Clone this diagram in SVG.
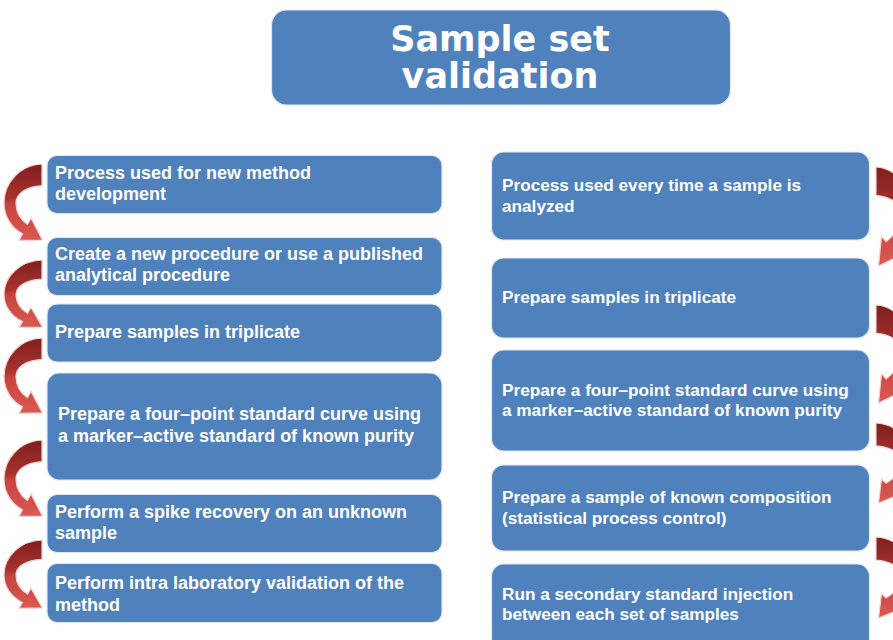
<svg xmlns="http://www.w3.org/2000/svg" xmlns:xlink="http://www.w3.org/1999/xlink" width="893" height="640" viewBox="0 0 893 640">
  <style>
    .box { fill: #4f81bd; stroke: #dfe8f3; stroke-width: 1.2; }
    .t { fill: #ffffff; font-family: "Liberation Sans", Arial, sans-serif; font-weight: bold; font-size: 18px; }
    .tr { fill: #ffffff; font-family: "Liberation Sans", Arial, sans-serif; font-weight: bold; font-size: 17.2px; }
    .title { fill: #ffffff; font-family: "DejaVu Sans", "Open Sans", sans-serif; font-weight: bold; font-size: 35px; text-anchor: middle; }
    .arr { fill: url(#arrGrad); stroke: #f1d3d2; stroke-width: 1.2; }
  </style>
  <defs>
    <linearGradient id="arrGrad" x1="0" y1="0" x2="0" y2="1">
      <stop offset="0" stop-color="#7f201e"/>
      <stop offset="0.44" stop-color="#a8322e"/>
      <stop offset="0.52" stop-color="#c8423d"/>
      <stop offset="1" stop-color="#da5a52"/>
    </linearGradient>
    <!-- curved arrow: tail at top right, bows out to the left, head points right -->
    <path id="carrow" class="arr" vector-effect="non-scaling-stroke"
          d="M42,0 C20,1 4,17 4,36 C4,49 12,59 22.5,64.3 L19,70.4 L42.4,70 L31,49.6 L27.5,55.7 C20,51 16,44 16,36 C16,27 26,21 42,20 Z"/>
    <!-- same arrow with a steeper head, used mirrored on the right -->
    <path id="carrow2" class="arr" vector-effect="non-scaling-stroke"
          d="M42,0 C20,1 4,17 4,34 C4,46 14,54 24.2,59.2 L19.5,63 L39.5,70 L36.5,49 L31.9,52.8 C22,47 16,42 16,34 C16,27 26,21 42,20 Z"/>
  </defs>

  <rect width="893" height="640" fill="#ffffff"/>

  <g id="connectors">
    <!-- left column -->
    <use xlink:href="#carrow" transform="translate(0,164) scale(1,1.086)"/>
    <use xlink:href="#carrow" transform="translate(0,260) scale(1,0.957)"/>
    <use xlink:href="#carrow" transform="translate(0,338) scale(1,1.071)"/>
    <use xlink:href="#carrow" transform="translate(0,440) scale(1,1.086)"/>
    <use xlink:href="#carrow" transform="translate(0,540) scale(1,0.971)"/>
    <!-- right column (mirrored) -->
    <use xlink:href="#carrow2" transform="translate(918,167) scale(-1,1.414)"/>
    <use xlink:href="#carrow2" transform="translate(918,305) scale(-1,1.4)"/>
    <use xlink:href="#carrow2" transform="translate(918,423) scale(-1,1.143)"/>
    <use xlink:href="#carrow2" transform="translate(918,537) scale(-1,1.157)"/>
  </g>

  <g id="title">
    <rect class="box" x="271.5" y="10" width="459" height="95" rx="15"/>
    <text class="title" x="500" y="51">Sample set</text>
    <text class="title" x="500" y="88">validation</text>
  </g>

  <!-- left column: new method development -->
  <g id="l1">
    <rect class="box" x="47" y="155.5" width="395" height="58" rx="10"/>
    <text class="t" x="55" y="179">Process used for new method</text>
    <text class="t" x="55" y="200">development</text>
  </g>
  <g id="l2">
    <rect class="box" x="47" y="237.5" width="395" height="58" rx="10"/>
    <text class="t" x="55" y="260">Create a new procedure or use a published</text>
    <text class="t" x="55" y="281">analytical procedure</text>
  </g>
  <g id="l3">
    <rect class="box" x="47" y="304" width="395" height="58" rx="10"/>
    <text class="t" x="55" y="338">Prepare samples in triplicate</text>
  </g>
  <g id="l4">
    <rect class="box" x="47" y="373" width="395" height="107" rx="12"/>
    <text class="t" x="58" y="420">Prepare a four–point standard curve using</text>
    <text class="t" x="58" y="442">a marker–active standard of known purity</text>
  </g>
  <g id="l5">
    <rect class="box" x="47" y="494.5" width="395" height="58" rx="10"/>
    <text class="t" x="55" y="518">Perform a spike recovery on an unknown</text>
    <text class="t" x="55" y="539">sample</text>
  </g>
  <g id="l6">
    <rect class="box" x="47" y="563.5" width="395" height="59" rx="10"/>
    <text class="t" x="55" y="589">Perform intra laboratory validation of the</text>
    <text class="t" x="55" y="611">method</text>
  </g>

  <!-- right column: routine sample analysis -->
  <g id="r1">
    <rect class="box" x="491.5" y="152" width="378" height="88" rx="12"/>
    <text class="tr" x="502" y="191">Process used every time a sample is</text>
    <text class="tr" x="502" y="212">analyzed</text>
  </g>
  <g id="r2">
    <rect class="box" x="491.5" y="258" width="378" height="80" rx="12"/>
    <text class="tr" x="502" y="303">Prepare samples in triplicate</text>
  </g>
  <g id="r3">
    <rect class="box" x="491.5" y="350" width="378" height="101" rx="12"/>
    <text class="tr" x="502" y="396">Prepare a four–point standard curve using</text>
    <text class="tr" x="502" y="416">a marker–active standard of known purity</text>
  </g>
  <g id="r4">
    <rect class="box" x="491.5" y="465" width="378" height="86" rx="12"/>
    <text class="tr" x="502" y="503">Prepare a sample of known composition</text>
    <text class="tr" x="502" y="524">(statistical process control)</text>
  </g>
  <g id="r5">
    <rect class="box" x="491.5" y="564" width="378" height="90" rx="12"/>
    <text class="tr" x="502" y="600">Run a secondary standard injection</text>
    <text class="tr" x="502" y="620">between each set of samples</text>
  </g>
</svg>
